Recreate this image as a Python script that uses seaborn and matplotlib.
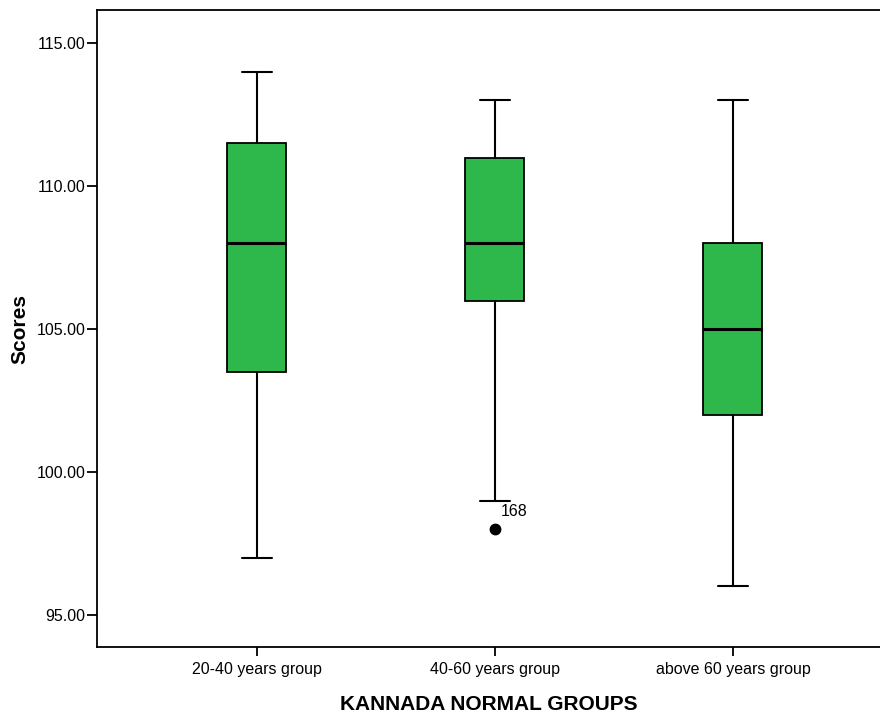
import matplotlib
matplotlib.use("Agg")
import matplotlib.pyplot as plt
import seaborn as sns

# ---- data ----
groups = ["20-40 years group", "40-60 years group", "above 60 years group"]
whisker_low = [97.0, 99.0, 96.0]
q1 = [103.5, 106.0, 102.0]
median = [108.0, 108.0, 105.0]
q3 = [111.5, 111.0, 108.0]
whisker_high = [114.0, 113.0, 113.0]
outliers = [[], [98.0], []]
outlier_labels = [[], ["168"], []]
y_ticks = [95, 100, 105, 110, 115]

sns.set_theme(style="white")
plt.rcParams["font.family"] = ["Liberation Sans", "DejaVu Sans"]
plt.rcParams["text.color"] = "black"
plt.rcParams["axes.labelcolor"] = "black"

fig = plt.figure(figsize=(8.8, 7.13), dpi=100)
ax = fig.add_axes([0.110, 0.0925, 0.89, 0.893])

stats = []
for i, g in enumerate(groups):
    stats.append(dict(label=g, whislo=whisker_low[i], q1=q1[i], med=median[i],
                      q3=q3[i], whishi=whisker_high[i], fliers=outliers[i]))

ax.bxp(stats, positions=range(len(groups)), widths=0.248, patch_artist=True,
       capwidths=0.125,
       boxprops=dict(facecolor="#2EB84B", edgecolor="black", linewidth=1.3),
       medianprops=dict(color="black", linewidth=2.2),
       whiskerprops=dict(color="black", linewidth=1.5),
       capprops=dict(color="black", linewidth=1.5),
       flierprops=dict(marker="o", markerfacecolor="black", markeredgecolor="black",
                       markersize=7.5))

for i, (vals, labs) in enumerate(zip(outliers, outlier_labels)):
    for v, lab in zip(vals, labs):
        ax.annotate(lab, (i, v), xytext=(4.5, 12.5), textcoords="offset points",
                    ha="left", va="center", fontsize=11.5, color="black")

ax.set_xlim(-0.672, 2.618)
ax.set_ylim(93.88, 116.15)
ax.set_yticks(y_ticks)
ax.set_yticklabels([f"{t:.2f}" for t in y_ticks], fontsize=11.5)
ax.set_xticks(range(len(groups)))
ax.set_xticklabels(groups, fontsize=11.5)

ax.spines["right"].set_visible(False)
for s in ["left", "top", "bottom"]:
    ax.spines[s].set_color("black")
    ax.spines[s].set_linewidth(1.3)
ax.tick_params(axis="both", which="major", direction="out", width=1.3,
               color="black", labelcolor="black", left=True, bottom=True)
ax.tick_params(axis="x", pad=4, length=6.5)
ax.tick_params(axis="y", pad=1, length=7)

ax.set_ylabel("Scores", fontsize=15, fontweight="bold", labelpad=5)
ax.set_xlabel("KANNADA NORMAL GROUPS", fontsize=15, fontweight="bold", labelpad=13)

fig.savefig("out.png", dpi=100)
